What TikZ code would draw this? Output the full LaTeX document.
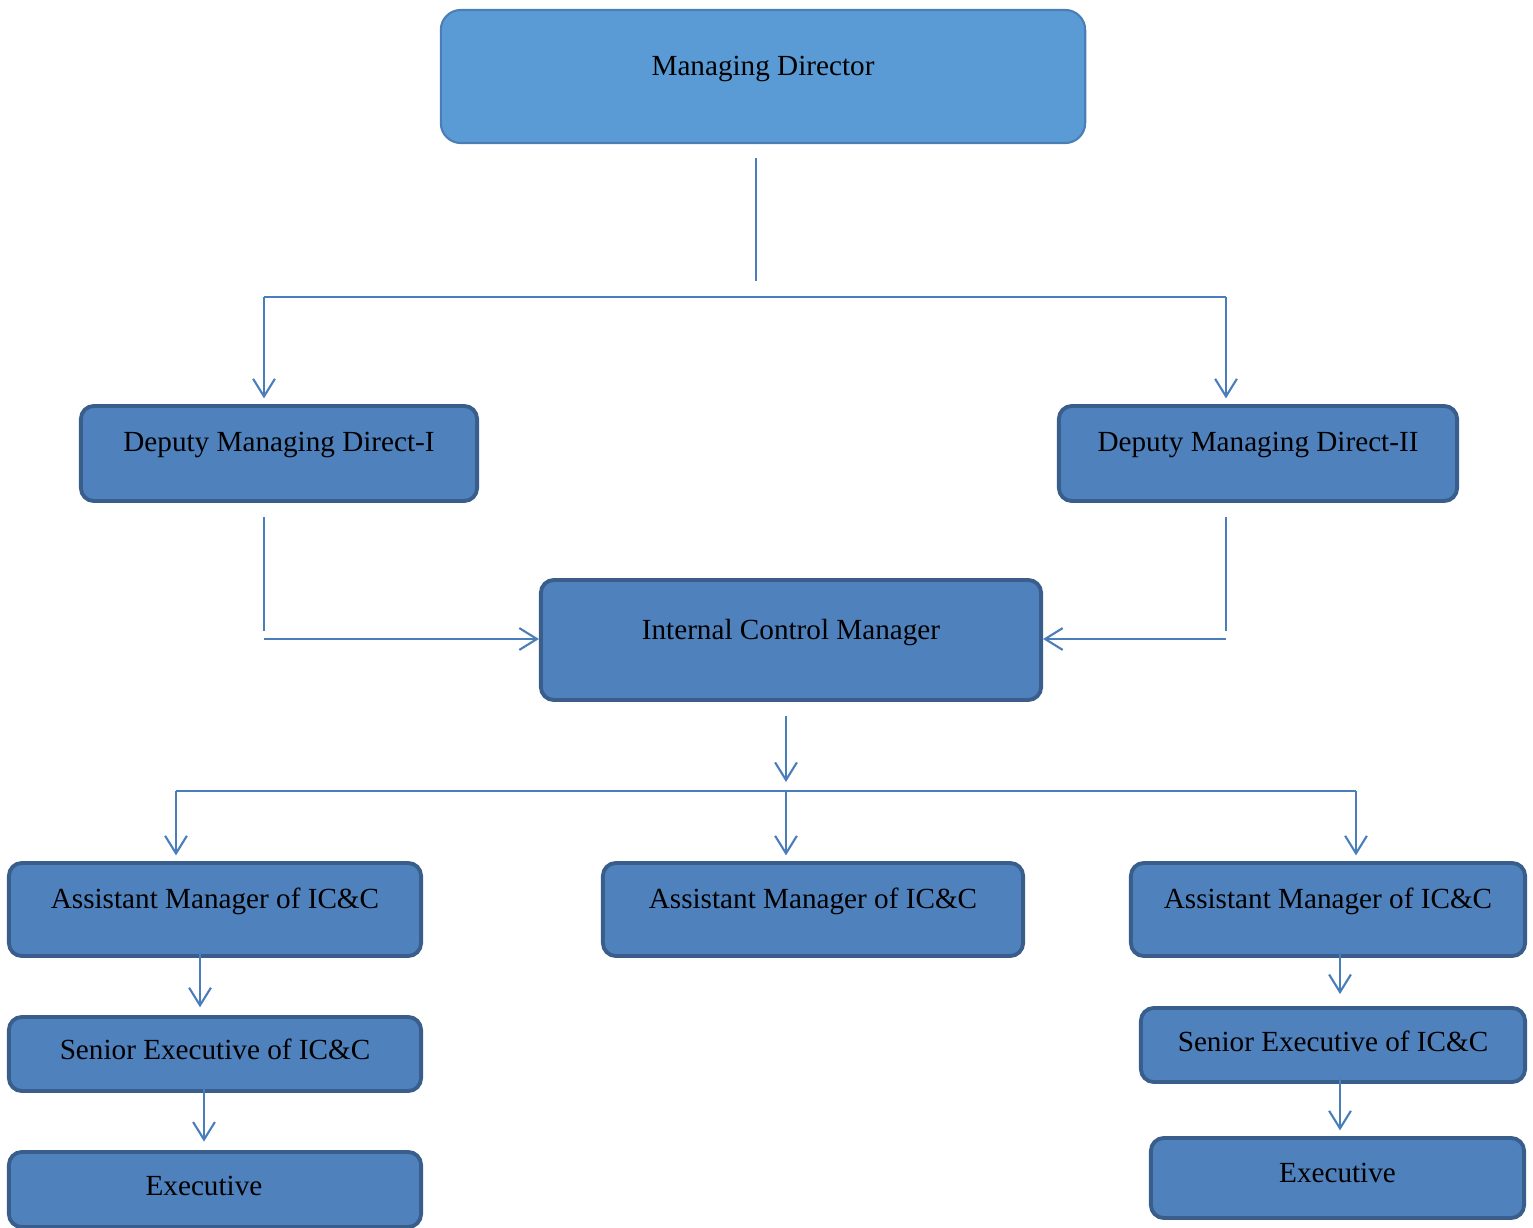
\documentclass[tikz,border=0pt]{standalone}
\usepackage{fontspec}
\setmainfont{Liberation Serif}
\usepackage{tikz}
\usetikzlibrary{arrows.meta}

\definecolor{mdfill}{HTML}{5B9BD5}
\definecolor{mdline}{HTML}{4A7EB5}
\definecolor{boxfill}{HTML}{4F81BD}
\definecolor{boxline}{HTML}{3A5E8C}
\definecolor{connline}{HTML}{4A7EBB}

\tikzset{
  box/.style={draw=boxline, fill=boxfill, line width=1.1pt, rounded corners=0.13cm,
    inner sep=0pt, text height=6pt, text depth=#1,
    font=\fontsize{8.3}{10}\selectfont},
  box/.default=6.5pt,
  conn/.style={draw=connline, line width=0.6pt},
  arr/.style={conn, -{Straight Barb[length=5pt,width=6.2pt]}, shorten >=1.6pt},
}

\begin{document}
\begin{tikzpicture}[x=0.01cm, y=-0.01cm]
        \useasboundingbox (0,0) rectangle (1533,1228);

        \node[box=6.6pt, fill=mdfill, draw=mdline, line width=0.6pt, rounded corners=0.2cm,
              minimum width=6.44cm, minimum height=1.33cm] (md) at (763,76.5) {Managing Director};
        \node[box=7.1pt, minimum width=3.96cm, minimum height=0.95cm] (dmd1) at (279,453.5) {Deputy Managing Direct-I};
        \node[box=7.1pt, minimum width=3.98cm, minimum height=0.95cm] (dmd2) at (1258,453.5) {Deputy Managing Direct-II};
        \node[box=6.2pt, minimum width=5cm, minimum height=1.2cm] (icm) at (791,640) {Internal Control Manager};

        \node[box, minimum width=4.12cm, minimum height=0.93cm] (am1) at (215,909.5) {Assistant Manager of IC\&C};
        \node[box, minimum width=4.2cm, minimum height=0.93cm] (am2) at (813,909.5) {Assistant Manager of IC\&C};
        \node[box, minimum width=3.94cm, minimum height=0.93cm] (am3) at (1328,909.5) {Assistant Manager of IC\&C};

        \node[box=2.8pt, minimum width=4.12cm, minimum height=0.74cm] (se1) at (215,1054) {Senior Executive of IC\&C};
        \node[box=2.2pt, minimum width=3.84cm, minimum height=0.74cm] (se3) at (1333,1045) {Senior Executive of IC\&C};
        \node[box=2.5pt, minimum width=4.12cm, minimum height=0.75cm] (ex1) at (215,1189.5) {\hspace*{-0.22cm}Executive};
        \node[box=3.6pt, minimum width=3.73cm, minimum height=0.8cm] (ex3) at (1337.5,1178) {Executive};

        % managing director down to both deputies
        \coordinate (mdstem) at (756,158);
        \coordinate (mdend) at (756,281);
        \coordinate (topL) at (264,297);
        \coordinate (topR) at (1226,297);
        \draw[conn] (mdstem) -- (mdend);
        \draw[conn] (topL) -- (topR);
        \draw[arr] (topL) -- (topL |- dmd1.north);
        \draw[arr] (topR) -- (topR |- dmd2.north);

        % deputies into internal control manager
        \coordinate (d1a) at (264,517);
        \coordinate (d1b) at (264,631);
        \coordinate (d1c) at (264,639);
        \coordinate (d2a) at (1226,517);
        \coordinate (d2b) at (1226,631);
        \coordinate (d2c) at (1226,639);
        \draw[conn] (d1a) -- (d1b);
        \draw[arr, shorten >=0pt] (d1c) -- (d1c -| icm.west);
        \draw[conn] (d2a) -- (d2b);
        \draw[arr, shorten >=0pt] (d2c) -- (d2c -| icm.east);

        % internal control manager down to the assistant managers
        \coordinate (icmstem) at (786,716);
        \coordinate (icmtip) at (786,782);
        \coordinate (lowL) at (176,791);
        \coordinate (lowM) at (786,791);
        \coordinate (lowR) at (1356,791);
        \draw[arr, shorten >=0pt] (icmstem) -- (icmtip);
        \draw[conn] (lowL) -- (lowR);
        \draw[arr] (lowL) -- (lowL |- am1.north);
        \draw[arr] (lowM) -- (lowM |- am2.north);
        \draw[arr] (lowR) -- (lowR |- am3.north);

        % left and right chains
        \coordinate (c1) at (200,952);
        \coordinate (c2) at (204,1088);
        \coordinate (c3) at (1340,952);
        \coordinate (c4) at (1340,1078);
        \draw[arr, shorten >=2.2pt] (c1) -- (c1 |- se1.north);
        \draw[arr, shorten >=2.4pt] (c2) -- (c2 |- ex1.north);
        \draw[arr, shorten >=3.4pt] (c3) -- (c3 |- se3.north);
        \draw[arr] (c4) -- (c4 |- ex3.north);
    \end{tikzpicture}
\end{document}
